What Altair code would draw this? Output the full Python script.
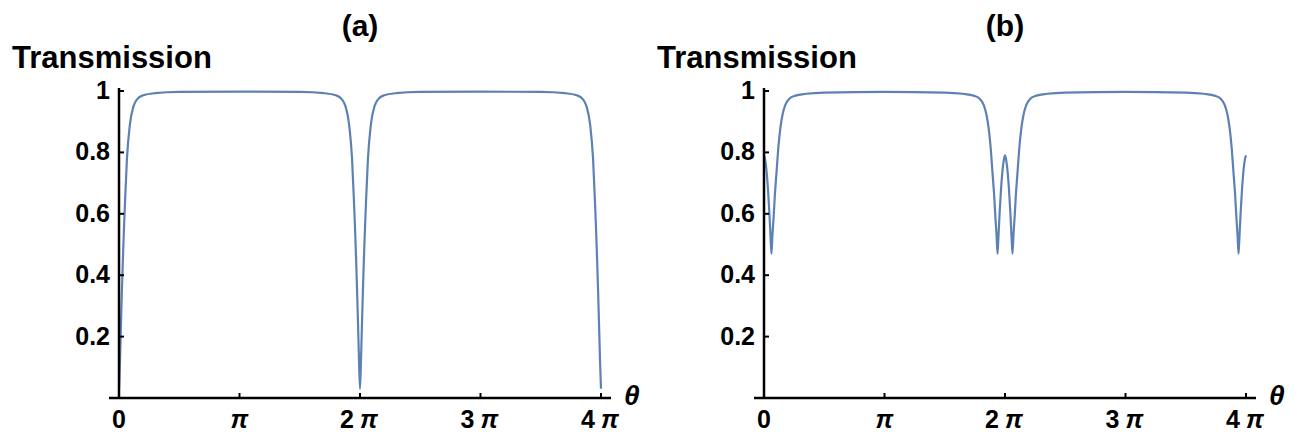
import altair as alt
import pandas as pd

# ---- data (theta in units of pi) ----
theta_a = [0, 0.008, 0.017, 0.025, 0.033, 0.042, 0.05, 0.066, 0.09, 0.12, 0.15, 0.2, 0.3, 0.5, 1.0,
           1.5, 1.7, 1.8, 1.85, 1.88, 1.91, 1.934, 1.95, 1.958, 1.967, 1.975, 1.983, 1.992, 2.0,
           2.008, 2.017, 2.025, 2.033, 2.042, 2.05, 2.066, 2.09, 2.12, 2.15, 2.2, 2.3, 2.5, 3.0,
           3.5, 3.7, 3.8, 3.85, 3.88, 3.91, 3.934, 3.95, 3.958, 3.967, 3.975, 3.983, 3.992, 4.0]
trans_a = [0.03, 0.12, 0.25, 0.36, 0.46, 0.56, 0.64, 0.78, 0.89, 0.95, 0.973, 0.986, 0.993, 0.997, 0.998,
           0.997, 0.993, 0.986, 0.973, 0.95, 0.89, 0.78, 0.64, 0.56, 0.46, 0.36, 0.25, 0.12, 0.03,
           0.12, 0.25, 0.36, 0.46, 0.56, 0.64, 0.78, 0.89, 0.95, 0.973, 0.986, 0.993, 0.997, 0.998,
           0.997, 0.993, 0.986, 0.973, 0.95, 0.89, 0.78, 0.64, 0.56, 0.46, 0.36, 0.25, 0.12, 0.03]

theta_b = [0, 0.01, 0.021, 0.033, 0.045, 0.055, 0.062, 0.07, 0.08, 0.09, 0.103, 0.12, 0.136, 0.155, 0.177,
           0.21, 0.26, 0.35, 0.5, 1.0,
           1.5, 1.65, 1.74, 1.79, 1.823, 1.845, 1.864, 1.88, 1.897, 1.91, 1.92, 1.93, 1.938, 1.945,
           1.955, 1.967, 1.979, 1.99, 2.0,
           2.01, 2.021, 2.033, 2.045, 2.055, 2.062, 2.07, 2.08, 2.09, 2.103, 2.12, 2.136, 2.155, 2.177,
           2.21, 2.26, 2.35, 2.5, 3.0,
           3.5, 3.65, 3.74, 3.79, 3.823, 3.845, 3.864, 3.88, 3.897, 3.91, 3.92, 3.93, 3.938, 3.945,
           3.955, 3.967, 3.979, 3.99, 4.0]
trans_b = [0.79, 0.775, 0.74, 0.68, 0.60, 0.52, 0.47, 0.53, 0.59, 0.66, 0.73, 0.82, 0.88, 0.925, 0.955,
           0.975, 0.985, 0.991, 0.995, 0.997,
           0.995, 0.991, 0.985, 0.975, 0.955, 0.925, 0.88, 0.82, 0.73, 0.66, 0.59, 0.53, 0.47, 0.52,
           0.60, 0.68, 0.74, 0.775, 0.79,
           0.775, 0.74, 0.68, 0.60, 0.52, 0.47, 0.53, 0.59, 0.66, 0.73, 0.82, 0.88, 0.925, 0.955,
           0.975, 0.985, 0.991, 0.995, 0.997,
           0.995, 0.991, 0.985, 0.975, 0.955, 0.925, 0.88, 0.82, 0.73, 0.66, 0.59, 0.53, 0.47, 0.52,
           0.60, 0.68, 0.74, 0.775, 0.79]

x_tick_values = [0, 1, 2, 3, 4]
x_tick_labels = ["0", "π", "2 π", "3 π", "4 π"]
y_tick_values = [0.2, 0.4, 0.6, 0.8, 1.0]
y_tick_labels = ["0.2", "0.4", "0.6", "0.8", "1"]
panel_titles = ["(a)", "(b)"]
y_title = "Transmission"
x_title = "θ"

W, H = 482, 307
FONT = "Liberation Sans"
LINE = "#5E81B5"

xs = alt.Scale(domain=[0, 4], nice=False, zero=False)
ys = alt.Scale(domain=[0, 1], nice=False, zero=False)

# split tick labels into coefficient and pi parts
xt = pd.DataFrame({"v": x_tick_values, "lab": x_tick_labels})
xt["coef"] = [s.split(" ")[0] if " " in s else ("" if "π" in s else s) for s in x_tick_labels]
xt["pi"] = ["π" if "π" in s else "" for s in x_tick_labels]
xt_plain = xt[xt["pi"] == ""]
xt_pionly = xt[(xt["pi"] != "") & (xt["coef"] == "")]
xt_multi = xt[(xt["pi"] != "") & (xt["coef"] != "")]
ytd = pd.DataFrame({"v": y_tick_values, "lab": y_tick_labels})


def txt(df, field, **kw):
    base = dict(font=FONT, fontSize=25, fontWeight="bold", baseline="middle")
    base.update(kw)
    return alt.Chart(df).mark_text(**base).encode(
        x=alt.X("v:Q", scale=xs, axis=None), y=alt.value(H + 22), text=f"{field}:N")


def panel(theta, trans, title):
    curve = alt.Chart(pd.DataFrame({"theta": theta, "T": trans})).mark_line(
        color=LINE, strokeWidth=2.2, interpolate="monotone"
    ).encode(
        x=alt.X("theta:Q", scale=xs, axis=None),
        y=alt.Y("T:Q", scale=ys, axis=None),
    )

    y_axis = alt.Chart(pd.DataFrame({"a": [0]})).mark_rule(color="black", strokeWidth=2.5).encode(
        x=alt.value(0), y=alt.value(H + 1), y2=alt.value(-3))
    x_axis = alt.Chart(pd.DataFrame({"a": [0]})).mark_rule(color="black", strokeWidth=2.5).encode(
        x=alt.value(-10), x2=alt.value(W + 10), y=alt.value(H))
    x_ticks = alt.Chart(xt).mark_rule(color="black", strokeWidth=2).encode(
        x=alt.X("v:Q", scale=xs, axis=None), y=alt.value(H), y2=alt.value(H - 5))
    y_ticks = alt.Chart(ytd).mark_rule(color="black", strokeWidth=2).encode(
        y=alt.Y("v:Q", scale=ys, axis=None), x=alt.value(0), x2=alt.value(5))

    lab_plain = txt(xt_plain, "coef", align="center")
    lab_pionly = txt(xt_pionly, "pi", align="center", fontStyle="italic")
    lab_coef = txt(xt_multi, "coef", align="right", dx=-6)
    lab_pi = txt(xt_multi, "pi", align="left", dx=0, fontStyle="italic")

    y_labels = alt.Chart(ytd).mark_text(font=FONT, fontSize=25, fontWeight="bold",
                                        align="right", baseline="middle").encode(
        y=alt.Y("v:Q", scale=ys, axis=None), x=alt.value(-9), text="lab:N")
    ttl = alt.Chart(pd.DataFrame({"lab": [title]})).mark_text(
        font=FONT, fontSize=30, fontWeight="bold", align="center", baseline="middle").encode(
        x=alt.value(W / 2), y=alt.value(-64), text="lab:N")
    ylab = alt.Chart(pd.DataFrame({"lab": [y_title]})).mark_text(
        font=FONT, fontSize=31, fontWeight="bold", align="left", baseline="middle").encode(
        x=alt.value(-107), y=alt.value(-32), text="lab:N")
    xlab = alt.Chart(pd.DataFrame({"lab": [x_title]})).mark_text(
        font=FONT, fontSize=28, fontWeight="bold", fontStyle="italic", align="left",
        baseline="middle").encode(
        x=alt.value(W + 23), y=alt.value(H - 1), text="lab:N")
    return alt.layer(curve, y_axis, x_axis, x_ticks, y_ticks, lab_plain, lab_pionly,
                     lab_coef, lab_pi, y_labels, ttl, ylab, xlab).properties(width=W, height=H)


chart = alt.hconcat(
    panel(theta_a, trans_a, panel_titles[0]),
    panel(theta_b, trans_b, panel_titles[1]),
    spacing=163, bounds="flush",
).configure_view(stroke=None).properties(padding={"left": 4, "top": 4, "right": 0, "bottom": 0})

chart.save("out.html", embed_options={"renderer": "svg", "actions": False})
